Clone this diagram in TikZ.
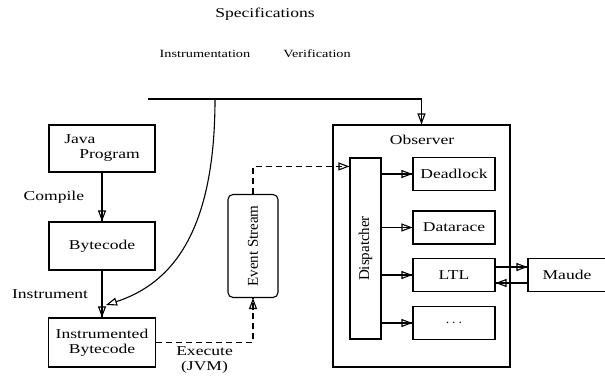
\documentclass[tikz,border=0pt]{standalone}
\usepackage{fontspec}
\setmainfont{Liberation Serif}[FakeStretch=1.3]
\newfontfamily\sidefont{Liberation Serif}
\usetikzlibrary{arrows.meta,positioning}

\newcommand{\vtext}[1]{\rotatebox{90}{\sidefont\fontsize{15}{16}\selectfont #1}}

\tikzstyle{block} = [
        draw, fill=white, rectangle, line width=1.1pt, inner sep=2pt
    ]
\tikzstyle{tip} = [
        line width=1.1pt, -{Triangle[open, length=11pt, width=8pt]}
    ]
\tikzstyle{flow} = [tip, postaction={draw, -}]
\tikzstyle{stream} = [dash pattern=on 6pt off 4pt]
\tikzstyle{tmp} = [coordinate]

\begin{document}
\begin{tikzpicture}[x=1pt, y=1pt, font=\fontsize{13.5}{15}\selectfont]
        \useasboundingbox (0,0) rectangle (605,381);
        \node [] (spec) at (265,367) {Specifications};
        \node [font=\fontsize{11}{13}\selectfont] (instrum) at (205,327) {Instrumentation};
        \node [font=\fontsize{11}{13}\selectfont] (verif) at (317,327) {Verification};
        % program side
        \node [block, minimum width=106pt, minimum height=47pt, align=left] (java) at (102,232.5) {Java\\\hspace*{15pt}Program};
        \node [block, below of=java, node distance=97.5pt, minimum width=106pt, minimum height=48pt] (bc) {Bytecode};
        \node [block, below of=bc, node distance=96.5pt, minimum width=107pt, minimum height=49pt, align=center] (ibc) {Instrumented\\Bytecode};
        \node [block, rounded corners=5pt, right of=bc, node distance=151pt, minimum width=50pt, minimum height=103pt] (evs) {\vtext{Event Stream}};
        % observer side
        \node [draw, line width=1.1pt, minimum width=177pt, minimum height=242pt] (obs) at (421.5,135) {};
        \node [] (obstitle) at (422,241) {Observer};
        \node [block, minimum width=31pt, minimum height=181pt] (disp) at (365.5,132.5) {\vtext{Dispatcher}};
        \node [block, minimum width=82pt, minimum height=33pt] (dl) at (454,207) {Deadlock};
        \node [block, below of=dl, node distance=53.5pt, minimum width=82pt, minimum height=33pt] (dr) {Datarace};
        \node [block, below of=dr, node distance=47.5pt, minimum width=82pt, minimum height=33pt] (ltl) {LTL};
        \node [block, below of=ltl, node distance=48pt, minimum width=82pt, minimum height=33pt] (more) {$\cdots$};
        \node [block, right of=ltl, node distance=113pt, minimum width=78pt, minimum height=33pt] (maude) {Maude};
        \node [tmp] (specl) at (148,282) {};
        \node [tmp] (split) at (215,282) {};
        \node [tmp] (merge) at (106,76) {};
        \draw [flow] (java) -- node[left=14pt]{Compile} (bc);
        \draw [flow] (bc) -- node[left=10pt]{Instrument} (ibc);
        \draw [flow] (specl) -| (obs.north);
        \draw [tip] (split) to[out=-90, in=18, out looseness=1.45, in looseness=0.77] (merge);
        \draw [flow, stream] (ibc) -| node[pos=0.25, below, align=center]{Execute\\(JVM)} (evs);
        \draw [flow, stream] (evs) |- ([yshift=-9pt]disp.north west);
        \draw [flow] (disp.east |- dl) -- (dl);
        \draw [flow] (disp.east |- dr) -- (dr);
        \draw [flow] (disp.east |- ltl) -- (ltl);
        \draw [flow] (disp.east |- more) -- (more);
        \draw [flow] ([yshift=8pt]ltl.east) -- ([yshift=8pt]maude.west);
        \draw [flow] ([yshift=-8pt]maude.west) -- ([yshift=-8pt]ltl.east);
    \end{tikzpicture}
\end{document}
